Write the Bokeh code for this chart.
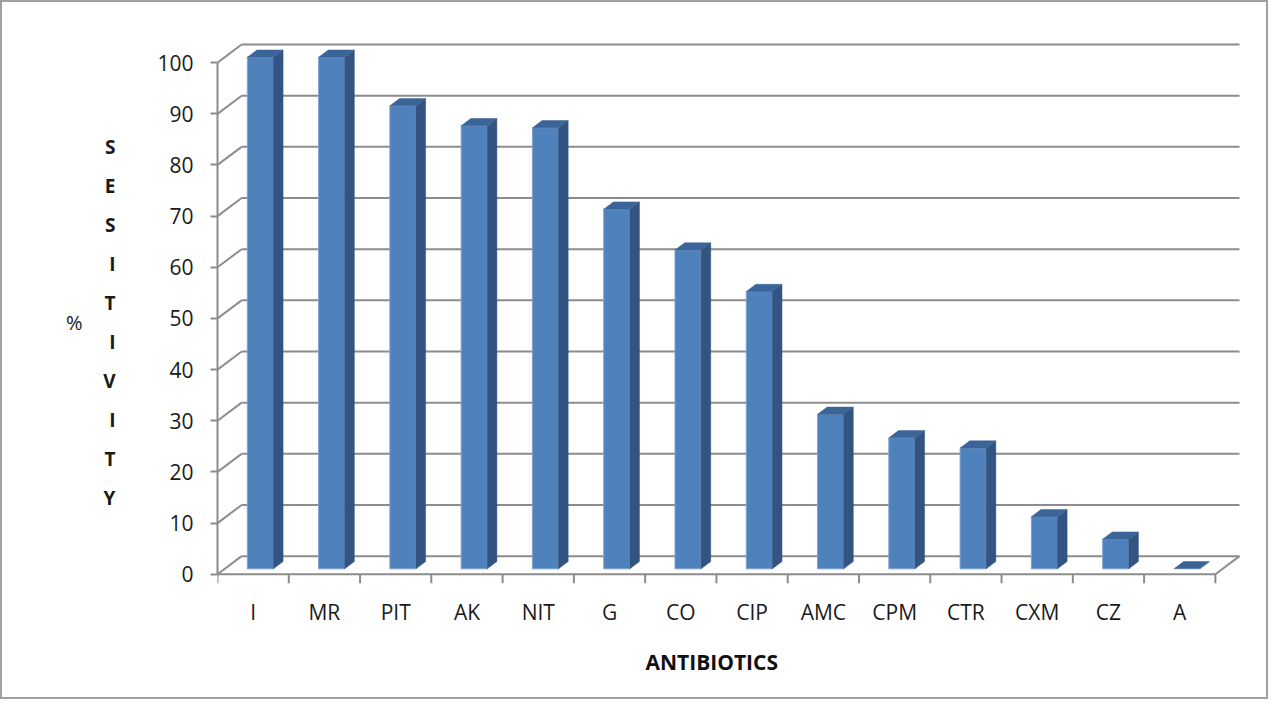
from bokeh.plotting import figure
from bokeh.models import Range1d, FixedTicker, LinearAxis, Title
from bokeh.embed import file_html
from bokeh.resources import INLINE

# ---------------- data ----------------
categories = ["I", "MR", "PIT", "AK", "NIT", "G", "CO", "CIP", "AMC", "CPM", "CTR", "CXM", "CZ", "A"]
sensitivity = [100, 100, 90.5, 86.6, 86.2, 70.3, 62.3, 54.2, 30.2, 25.6, 23.6, 10.2, 5.8, 0]
y_ticks = [0, 10, 20, 30, 40, 50, 60, 70, 80, 90, 100]
y_title_letters = "SESITIVITY"
y_unit_title = "%"
x_title = "ANTIBIOTICS"

# ---------------- geometry ----------------
PX_X = 71.0          # pixels per category
PX_Y = 5.08          # pixels per percent
FRAME_W, FRAME_H = 1022, 561
Y0_FROM_BOTTOM = 30  # pixels from frame bottom to the front zero line
y_start = -Y0_FROM_BOTTOM / PX_Y
y_end = (FRAME_H - Y0_FROM_BOTTOM) / PX_Y
x_end = FRAME_W / PX_X
DX = 24 / PX_X       # depth of the floor (data units)
DY = 18 / PX_Y
F0, F1 = 0.30, 0.70  # bar front/back depth fractions
BAR_W = 26 / PX_X

GRID = "#8c8c8c"
FONT = "Open Sans"
TXT = "#1a1a1a"
n = len(categories)

p = figure(width=1268, height=699, output_backend="svg", toolbar_location=None,
           x_range=Range1d(0, x_end), y_range=Range1d(y_start, y_end),
           min_border_left=215, min_border_right=27, min_border_top=37, min_border_bottom=97)
p.styles = {"border": "2px solid #a0a0a0", "box-sizing": "border-box"}
p.outline_line_color = None
p.xgrid.visible = False
p.ygrid.visible = False
p.background_fill_color = "white"
p.border_fill_color = "white"

# ---- walls / grid ----
gx0, gy0, gx1, gy1 = [], [], [], []
for t in y_ticks:
    gx0.append(DX); gy0.append(t + DY); gx1.append(n + DX); gy1.append(t + DY)   # back wall
    gx0.append(0); gy0.append(t); gx1.append(DX); gy1.append(t + DY)             # side wall
gx0 += [0, n]; gy0 += [0, 0]; gx1 += [n, n + DX]; gy1 += [0, DY]                 # floor edges
p.segment(x0=gx0, y0=gy0, x1=gx1, y1=gy1, line_color=GRID, line_width=2)

# category ticks below the floor
p.segment(x0=list(range(n + 1)), y0=[0] * (n + 1), x1=list(range(n + 1)),
          y1=[-9 / PX_Y] * (n + 1), line_color=GRID, line_width=2)

# ---- 3D bars ----
front_x, front_y, side_x, side_y, top_x, top_y = [], [], [], [], [], []
for i, v in enumerate(sensitivity):
    xl = i + 0.5 - BAR_W / 2
    xr = xl + BAR_W
    ox0, oy0 = F0 * DX, F0 * DY
    ox1, oy1 = F1 * DX, F1 * DY
    front_x.append([xl + ox0, xr + ox0, xr + ox0, xl + ox0])
    front_y.append([oy0, oy0, v + oy0, v + oy0])
    side_x.append([xr + ox0, xr + ox1, xr + ox1, xr + ox0])
    side_y.append([oy0, oy1, v + oy1, v + oy0])
    top_x.append([xl + ox0, xr + ox0, xr + ox1, xl + ox1])
    top_y.append([v + oy0, v + oy0, v + oy1, v + oy1])

nz = [k for k, v in enumerate(sensitivity) if v > 0]
p.patches([front_x[k] for k in nz], [front_y[k] for k in nz], fill_color="#4f81bd",
          line_color="#7fa2cf", line_width=1)
p.patches([side_x[k] for k in nz], [side_y[k] for k in nz], fill_color="#335480",
          line_color="#335480", line_width=0.5)
p.patches(top_x, top_y, fill_color="#3b6499", line_color="#3b6499", line_width=0.5)

# ---- axes ----
yax = p.yaxis[0]
yax.ticker = FixedTicker(ticks=y_ticks)
yax.bounds = (0, 100)
yax.axis_line_color = GRID
yax.axis_line_width = 2
yax.major_tick_line_color = GRID
yax.major_tick_line_width = 2
yax.major_tick_out = 7
yax.major_tick_in = 0
yax.minor_tick_line_color = None
yax.major_label_standoff = 17
yax.major_label_text_font = FONT
yax.major_label_text_font_size = "21px"
yax.major_label_text_color = TXT
yax.axis_label = "\n".join(y_title_letters)
yax.axis_label_orientation = "horizontal"
yax.axis_label_standoff = 39
yax.axis_label_text_font = FONT
yax.axis_label_text_font_size = "19px"
yax.axis_label_text_font_style = "bold"
yax.axis_label_text_line_height = 1.50
yax.axis_label_text_color = TXT

# second, tick-less left axis carrying the "%" label
pax = LinearAxis(ticker=FixedTicker(ticks=[]), axis_line_color=None,
                 major_tick_line_color=None, minor_tick_line_color=None,
                 major_tick_out=0, major_tick_in=0, minor_tick_out=0,
                 axis_label=y_unit_title, axis_label_orientation="horizontal",
                 axis_label_standoff=18, axis_label_text_font=FONT,
                 axis_label_text_font_size="20px", axis_label_text_font_style="normal",
                 axis_label_text_color=TXT)
p.add_layout(pax, "left")

xax = p.xaxis[0]
centers = [i + 0.5 for i in range(n)]
xax.ticker = FixedTicker(ticks=centers)
xax.major_label_overrides = {c: lab for c, lab in zip(centers, categories)}
xax.axis_line_color = None
xax.major_tick_line_color = None
xax.minor_tick_line_color = None
xax.major_tick_out = 0
xax.major_tick_in = 0
xax.major_label_standoff = -7
xax.major_label_text_font = FONT
xax.major_label_text_font_size = "21px"
xax.major_label_text_color = TXT

p.add_layout(Title(text=x_title, align="left", offset=428, standoff=34,
                   text_font=FONT, text_font_size="21px", text_font_style="bold",
                   text_color="#111111"), "below")

open("out.html", "w").write(file_html(p, INLINE))
